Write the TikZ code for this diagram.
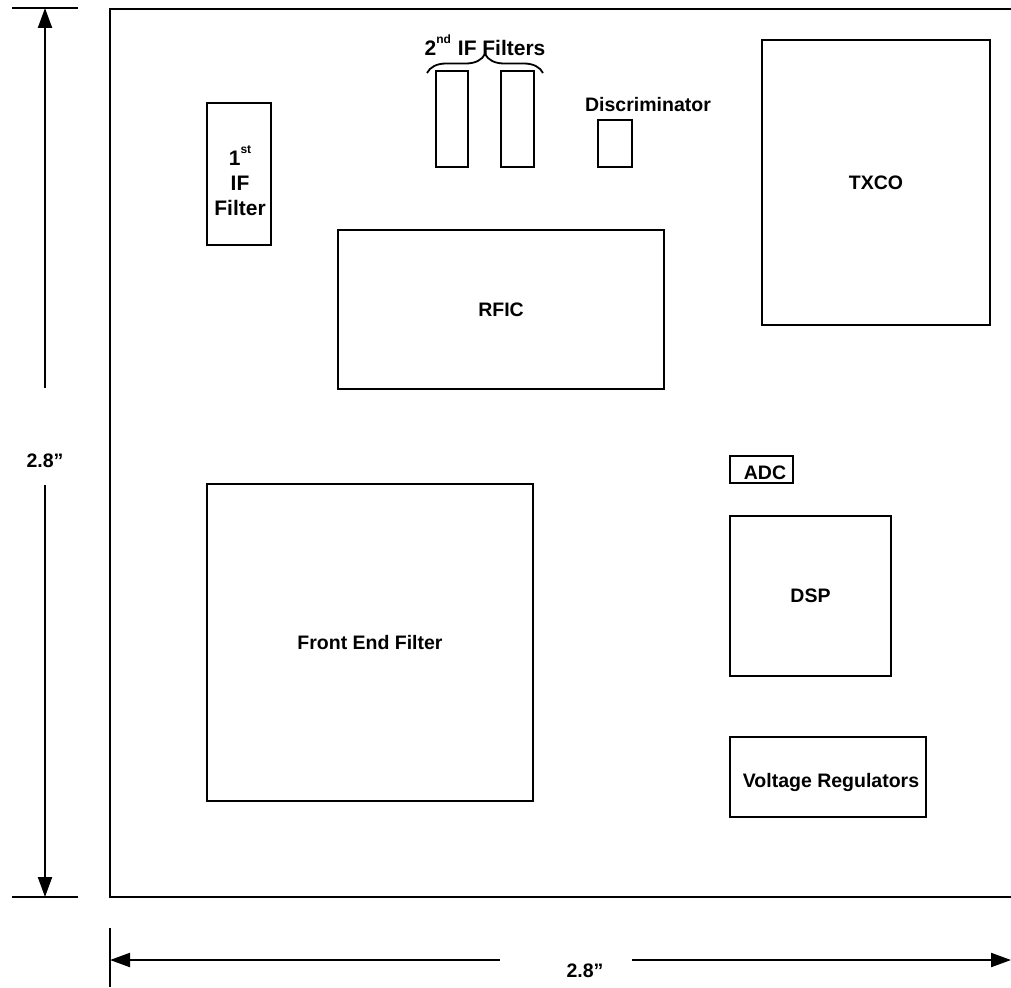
\documentclass[tikz,border=0pt]{standalone}
\usepackage{fontspec}
\setmainfont{Liberation Sans}
\usetikzlibrary{arrows.meta,decorations.pathreplacing}
\begin{document}
\begin{tikzpicture}[x={(1pt,0)},y={(0,-1pt)},
  line width=2.2pt,
  part/.style={draw,rectangle,inner sep=0pt,font=\bfseries\fontsize{19.5}{23}\selectfont,align=center},
  lbl/.style={inner sep=0pt,font=\bfseries\fontsize{19.5}{23}\selectfont,align=center},
  dimtip/.style={-{Triangle[length=20pt,width=14pt]}}]
\useasboundingbox (0,0) rectangle (1011,987);
% board outline
\coordinate (bTR) at (1011,9);
\coordinate (bTL) at (110,9);
\coordinate (bBL) at (110,897);
\coordinate (bBR) at (1011,897);
\draw (bTR) -- (bTL) -- (bBL) -- (bBR);
% parts
\node[part,minimum width=64pt,minimum height=142pt] (if1) at (239,174) {};
\node[lbl,font=\bfseries\fontsize{21}{25}\selectfont] (if1t) at (240,181) {1\raisebox{1.1ex}{\fontsize{12}{12}\selectfont st}\\IF\\Filter};
\node[part,minimum width=32pt,minimum height=96pt] (if2a) at (452,119) {};
\node[part,minimum width=33pt,minimum height=96pt] (if2b) at (517.5,119) {};
\node[part,minimum width=34pt,minimum height=47pt] (disc) at (615,143.5) {};
\node[lbl] (disct) at (648,105) {Discriminator};
\node[part,minimum width=228pt,minimum height=285pt] (txco) at (876,182.5) {TXCO};
\node[part,minimum width=326pt,minimum height=159pt] (rfic) at (501,309.5) {RFIC};
\node[part,minimum width=63pt,minimum height=27pt] (adc) at (761.5,469.5) {};
\node[lbl] (adct) at (765,473) {ADC};
\node[part,minimum width=161pt,minimum height=160pt] (dsp) at (810.5,596) {DSP};
\node[part,minimum width=326pt,minimum height=317pt] (fef) at (370,642.5) {Front End Filter};
\node[part,minimum width=196pt,minimum height=80pt] (vreg) at (828,777) {};
\node[lbl] (vregt) at (831,782) {Voltage Regulators};
% 2nd IF brace
\coordinate (brL) at (427,73);
\coordinate (brR) at (543,73);
\draw[line width=1.8pt,decorate,decoration={brace,amplitude=19pt}] (brL) -- (brR);
\node[lbl,font=\bfseries\fontsize{21}{24}\selectfont] (if2t) at (485,45) {2\raisebox{1.1ex}{\fontsize{12}{12}\selectfont nd}\,\,IF Filters};
% vertical dimension
\coordinate (vT1) at (12,8);
\coordinate (vT2) at (78,8);
\coordinate (vB1) at (12,897);
\coordinate (vB2) at (78,897);
\draw (vT1) -- (vT2);
\draw (vB1) -- (vB2);
\node[lbl] (vdim) at (45,461) {2.8”};
\coordinate (vA) at (45,388);
\coordinate (vAt) at (45,8);
\coordinate (vB) at (45,485);
\coordinate (vBt) at (45,897);
\draw[dimtip] (vA) -- (vAt);
\draw[dimtip] (vB) -- (vBt);
% horizontal dimension
\coordinate (hT1) at (110,928);
\coordinate (hT2) at (110,987);
\draw (hT1) -- (hT2);
\node[lbl] (hdim) at (585,971) {2.8”};
\coordinate (hL) at (500,960);
\coordinate (hLt) at (110,960);
\coordinate (hR) at (632,960);
\coordinate (hRt) at (1011,960);
\draw[dimtip] (hL) -- (hLt);
\draw[dimtip] (hR) -- (hRt);
\end{tikzpicture}
\end{document}
